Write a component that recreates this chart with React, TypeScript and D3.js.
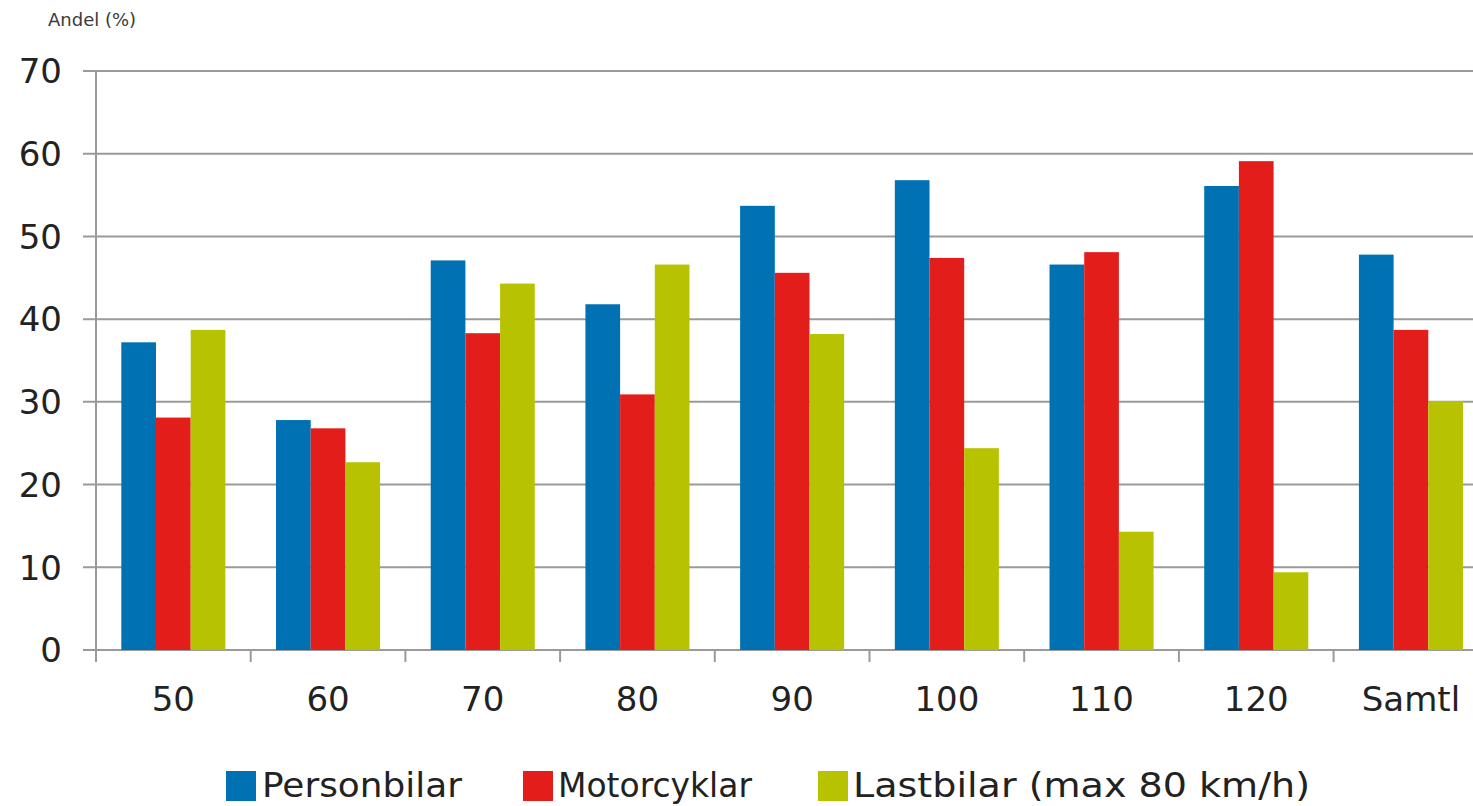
import React from "react";
import * as d3 from "d3";

const categories = ["50", "60", "70", "80", "90", "100", "110", "120", "Samtl"];
const seriesNames = ["Personbilar", "Motorcyklar", "Lastbilar (max 80 km/h)"];
const personbilar = [37.2, 27.8, 47.1, 41.8, 53.7, 56.8, 46.6, 56.1, 47.8];
const motorcyklar = [28.1, 26.8, 38.3, 30.9, 45.6, 47.4, 48.1, 59.1, 38.7];
const lastbilar = [38.7, 22.7, 44.3, 46.6, 38.2, 24.4, 14.3, 9.4, 30.1];
const yTicks = [0, 10, 20, 30, 40, 50, 60, 70];
const colors = ["#0071b3", "#e31d1a", "#b7c300"];

const W = 1473;
const H = 806;
const FONT = "'DejaVu Sans', Verdana, sans-serif";

export default function App() {
  const series = [personbilar, motorcyklar, lastbilar];
  const left = 96;
  const step = 154.7;
  const x0 = d3
    .scaleBand<string>()
    .domain(categories)
    .range([left, left + step * categories.length])
    .paddingInner(0)
    .paddingOuter(0);
  const x1 = d3
    .scaleBand<string>()
    .domain(seriesNames)
    .range([0, x0.bandwidth()])
    .paddingInner(0)
    .paddingOuter(0.73);
  const y = d3.scaleLinear().domain([0, 70]).range([650, 71]);

  const legendItems = [
    { sq: 226, tx: 262, tw: 200 },
    { sq: 523, tx: 558, tw: 194 },
    { sq: 818, tx: 853, tw: 457 },
  ];

  return (
    <svg
      width={W}
      height={H}
      style={{ position: "absolute", left: 0, top: 0, background: "#fff" }}
    >
      <rect x={0} y={0} width={W} height={H} fill="#fff" />
      <text x={48} y={26} fontFamily={FONT} fontSize={18} fill="#3a3a3a">
        Andel (%)
      </text>
      {yTicks.map((t) => (
        <g key={t}>
          <line x1={83} x2={W} y1={y(t)} y2={y(t)} stroke="#9a9a9a" strokeWidth={2} />
          <text
            x={62}
            y={y(t)}
            dy="0.36em"
            textAnchor="end"
            fontFamily={FONT}
            fontSize={34}
            fill="#222"
          >
            {t}
          </text>
        </g>
      ))}
      <line x1={left} x2={left} y1={y(70)} y2={662} stroke="#9a9a9a" strokeWidth={2} />
      {categories.map((c, i) => (
        <g key={c}>
          <line
            x1={x0(c) as number}
            x2={x0(c) as number}
            y1={650}
            y2={662}
            stroke="#9a9a9a"
            strokeWidth={2}
          />
          {series.map((s, j) => (
            <rect
              key={j}
              x={(x0(c) as number) + (x1(seriesNames[j]) as number)}
              width={x1.bandwidth()}
              y={y(s[i])}
              height={y(0) - y(s[i])}
              fill={colors[j]}
            />
          ))}
          <text
            x={(x0(c) as number) + x0.bandwidth() / 2}
            y={711}
            textAnchor="middle"
            fontFamily={FONT}
            fontSize={34}
            fill="#222"
          >
            {c}
          </text>
        </g>
      ))}
      {seriesNames.map((n, j) => (
        <g key={n}>
          <rect x={legendItems[j].sq} y={771} width={30} height={30} fill={colors[j]} />
          <text
            x={legendItems[j].tx}
            y={797}
            fontFamily={FONT}
            fontSize={34}
            fill="#222"
            textLength={legendItems[j].tw}
            lengthAdjust="spacingAndGlyphs"
          >
            {n}
          </text>
        </g>
      ))}
    </svg>
  );
}
